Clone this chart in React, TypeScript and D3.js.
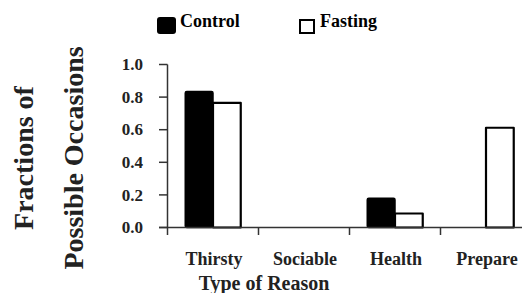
import React from "react";
import * as d3 from "d3";

const categories = ["Thirsty", "Sociable", "Health", "Prepare"];
const series = ["Control", "Fasting"];
const controlValues = [0.835, 0, 0.18, 0];
const fastingValues = [0.765, 0, 0.086, 0.612];
const yTicks = [0, 0.2, 0.4, 0.6, 0.8, 1.0];

const W = 522;
const H = 293;
const FONT = "Liberation Serif";

export default function App() {
  const x0 = d3.scaleBand<string>().domain(categories).range([167.5, 531.5]).padding(0);
  const x1 = d3
    .scaleBand<string>()
    .domain(series)
    .range([0, x0.bandwidth()])
    .paddingInner(0)
    .paddingOuter(0.64);
  const y = d3.scaleLinear().domain([0, 1]).range([227.5, 64.5]);
  const valuesBySeries: Record<string, number[]> = {
    Control: controlValues,
    Fasting: fastingValues,
  };
  const axisColor = "#333";

  return (
    <svg
      width={W}
      height={H}
      style={{ position: "absolute", left: 0, top: 0, background: "#fff" }}
    >
      {/* legend */}
      <rect x={157} y={17} width={19} height={17} rx={3} fill="#000" />
      <text x={180} y={27} fontSize={18} fill="#000" fontFamily={FONT} fontWeight={700}>
        Control
      </text>
      <rect x={300} y={20} width={14} height={13} fill="#fff" stroke="#000" strokeWidth={2} />
      <text x={320} y={27} fontSize={18} fill="#000" fontFamily={FONT} fontWeight={700}>
        Fasting
      </text>

      {/* bars */}
      {categories.map((c, i) => (
        <g key={c} transform={`translate(${x0(c)},0)`}>
          {series.map((s) => {
            const v = valuesBySeries[s][i];
            if (v <= 0) return null;
            const isControl = s === "Control";
            return (
              <rect
                key={s}
                x={x1(s)!}
                y={y(v)}
                width={x1.bandwidth()}
                height={y(0) - y(v)}
                fill={isControl ? "#000" : "#fff"}
                stroke="#000"
                strokeWidth={isControl ? 1.5 : 2.2}
                strokeLinejoin="round"
                rx={isControl ? 1.5 : 0}
              />
            );
          })}
        </g>
      ))}

      {/* y axis */}
      <line x1={167.5} x2={167.5} y1={y(1)} y2={y(0)} stroke={axisColor} strokeWidth={1.5} />
      {yTicks.map((t) => (
        <g key={t}>
          <line x1={159} x2={167.5} y1={y(t)} y2={y(t)} stroke={axisColor} strokeWidth={1.5} />
          <text
            x={143}
            y={y(t)}
            dy="0.33em"
            textAnchor="end"
            fontSize={17}
            fill="#222"
            fontFamily={FONT}
            fontWeight={700}
          >
            {t.toFixed(1)}
          </text>
        </g>
      ))}

      {/* x axis */}
      <line x1={159} x2={W} y1={y(0)} y2={y(0)} stroke={axisColor} strokeWidth={1.5} />
      {categories.map((c) => (
        <g key={c}>
          <line x1={x0(c)!} x2={x0(c)!} y1={y(0)} y2={235} stroke={axisColor} strokeWidth={1.5} />
          <text
            x={x0(c)! + x0.bandwidth() / 2 + 1}
            y={265}
            textAnchor="middle"
            fontSize={18}
            fill="#222"
            fontFamily={FONT}
            fontWeight={700}
          >
            {c}
          </text>
        </g>
      ))}

      {/* axis titles */}
      <text
        x={264}
        y={290}
        textAnchor="middle"
        fontSize={20}
        fill="#222"
        fontFamily={FONT}
        fontWeight={700}
      >
        Type of Reason
      </text>
      <text
        transform="translate(33,158) rotate(-90)"
        textAnchor="middle"
        fontSize={28}
        fill="#222"
        fontFamily={FONT}
        fontWeight={700}
      >
        Fractions of
      </text>
      <text
        transform="translate(83,158) rotate(-90)"
        textAnchor="middle"
        fontSize={28}
        fill="#222"
        fontFamily={FONT}
        fontWeight={700}
      >
        Possible Occasions
      </text>
    </svg>
  );
}
